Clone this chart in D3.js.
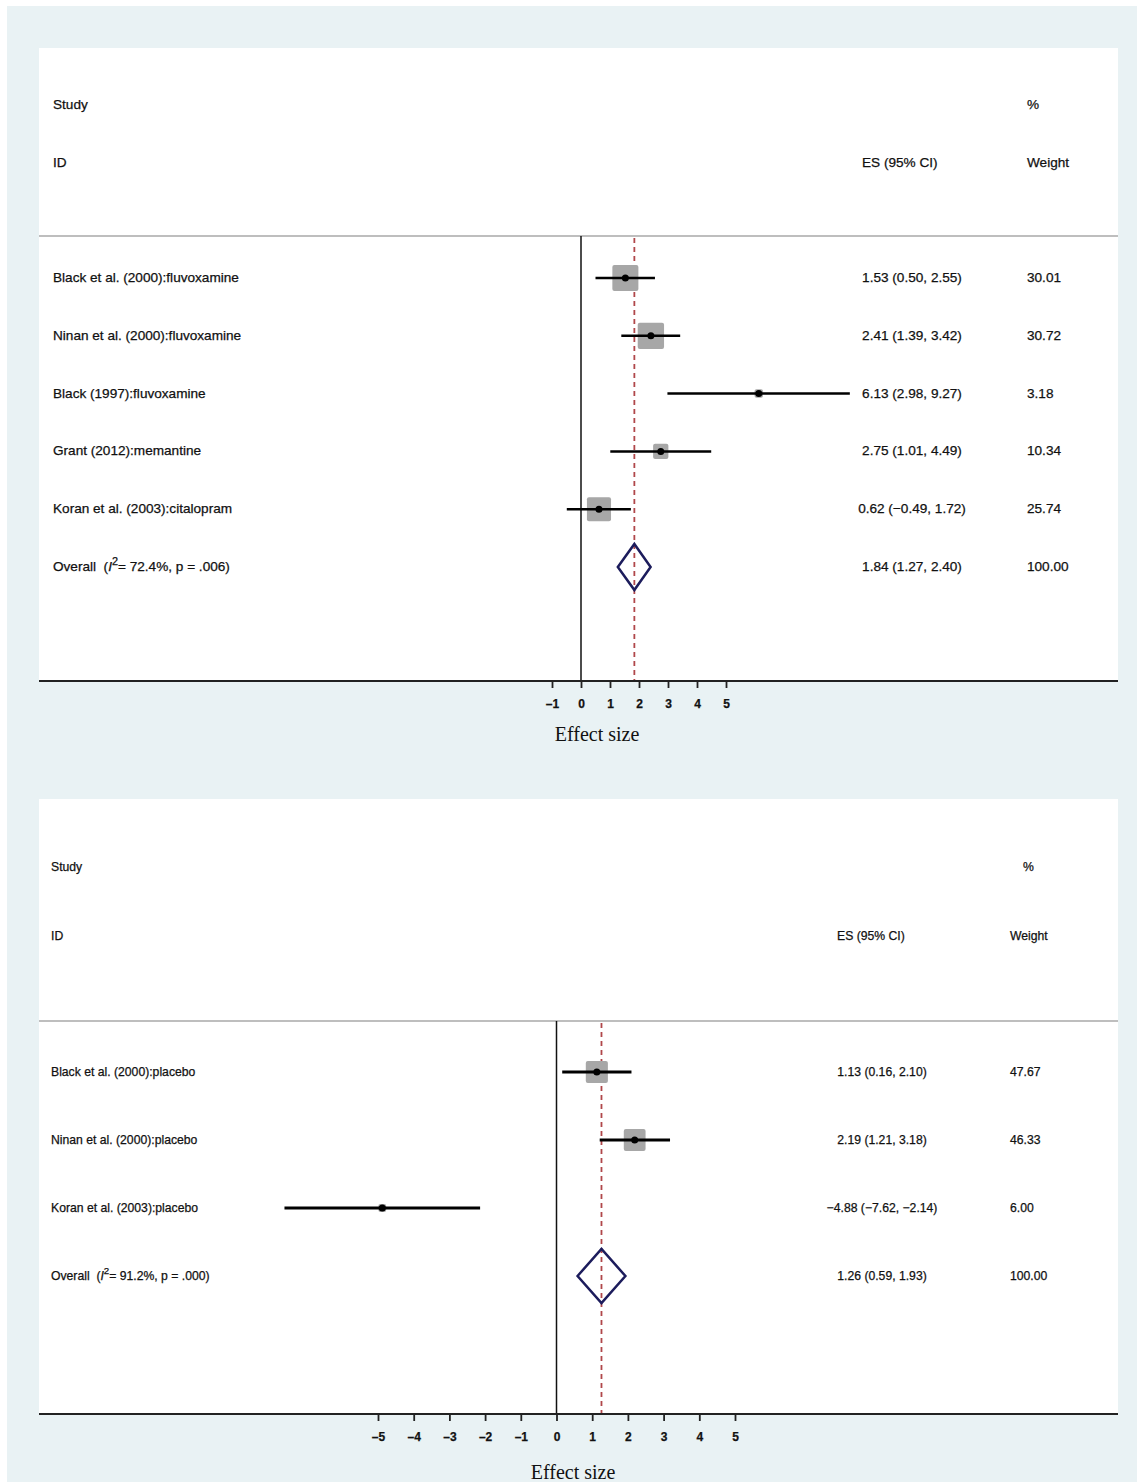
<!DOCTYPE html>
<html>
<head>
  <meta charset="utf-8">
  <title>Forest plots</title>
  <script src="https://d3js.org/d3.v7.min.js"></script>
  <style>
    body { margin: 0; background: #fff; }
    text { font-family: "Liberation Sans", Arial, sans-serif; fill: #111; stroke: #111; stroke-width: 0.25px; }
  </style>
</head>
<body>

<script>
// top panel: active drug
const topStudies = ['Black et al. (2000):fluvoxamine', 'Ninan et al. (2000):fluvoxamine',
  'Black (1997):fluvoxamine', 'Grant (2012):memantine', 'Koran et al. (2003):citalopram'];
const topES = [1.53, 2.41, 6.13, 2.75, 0.62];
const topLo = [0.50, 1.39, 2.98, 1.01, -0.49];
const topHi = [2.55, 3.42, 9.27, 4.49, 1.72];
const topWeight = [30.01, 30.72, 3.18, 10.34, 25.74];
const topOverall = { es: 1.84, lo: 1.27, hi: 2.40, i2: '72.4%', p: '.006' };
const topTicks = [-1, 0, 1, 2, 3, 4, 5];

// bottom panel: placebo
const botStudies = ['Black et al. (2000):placebo', 'Ninan et al. (2000):placebo', 'Koran et al. (2003):placebo'];
const botES = [1.13, 2.19, -4.88];
const botLo = [0.16, 1.21, -7.62];
const botHi = [2.10, 3.18, -2.14];
const botWeight = [47.67, 46.33, 6.00];
const botOverall = { es: 1.26, lo: 0.59, hi: 1.93, i2: '91.2%', p: '.000' };
const botTicks = [-5, -4, -3, -2, -1, 0, 1, 2, 3, 4, 5];

const width = 1137, height = 1482;
const svg = d3.select('body').append('svg')
  .attr('width', width)
  .attr('height', height);

svg.append('rect').attr('x', 7).attr('y', 6).attr('width', width - 7).attr('height', height - 6)
  .attr('fill', '#e9f2f4');

const fmt = v => d3.format('.2f')(v).replace('-', '\u2013');

function drawPanel(p) {
  const g = svg.append('g');
  const x = d3.scaleLinear().domain(p.xDomain).range(p.xRange);
  const n = p.studies.length;
  const y = d3.scaleLinear().domain([0, n]).range(p.rowRange);

  g.append('rect').attr('x', 39).attr('y', p.top).attr('width', 1079).attr('height', p.axisY - p.top)
    .attr('fill', '#fff');

  // headers
  const fs = p.fontSize;
  g.append('text').attr('x', p.labelX).attr('y', p.headY1 + 4).attr('font-size', fs).text('Study');
  g.append('text').attr('x', p.labelX).attr('y', p.headY2 + 4).attr('font-size', fs).text('ID');
  g.append('text').attr('x', p.esHeadX).attr('y', p.headY2 + 4).attr('font-size', fs).text('ES (95% CI)');
  g.append('text').attr('x', p.pctX).attr('y', p.headY1 + 4).attr('font-size', fs).text('%');
  g.append('text').attr('x', p.wX).attr('y', p.headY2 + 4).attr('font-size', fs).text('Weight');

  g.append('line').attr('x1', 39).attr('x2', 1118).attr('y1', p.headLine).attr('y2', p.headLine)
    .attr('stroke', '#a8a8a8').attr('stroke-width', 1.5);

  // no-effect line and overall dashed line
  g.append('line').attr('x1', x(0)).attr('x2', x(0)).attr('y1', p.headLine).attr('y2', p.axisY)
    .attr('stroke', '#111').attr('stroke-width', 1.5);
  g.append('line').attr('x1', x(p.overall.es)).attr('x2', x(p.overall.es))
    .attr('y1', p.headLine + 2).attr('y2', p.axisY)
    .attr('stroke', '#b0474a').attr('stroke-width', 1.8).attr('stroke-dasharray', '5,4');

  const rows = d3.range(n).map(i => ({
    name: p.studies[i], es: p.es[i], lo: p.lo[i], hi: p.hi[i], w: p.weight[i], i
  }));

  // boxes
  g.selectAll('.box').data(rows).enter().append('rect')
    .attr('x', d => x(d.es) - p.boxK * Math.sqrt(d.w) / 2)
    .attr('y', d => y(d.i) - p.boxK * Math.sqrt(d.w) / 2)
    .attr('width', d => p.boxK * Math.sqrt(d.w))
    .attr('height', d => p.boxK * Math.sqrt(d.w))
    .attr('rx', 2)
    .attr('fill', '#a7a7a7');

  g.selectAll('.ci').data(rows).enter().append('line')
    .attr('x1', d => x(d.lo)).attr('x2', d => x(d.hi))
    .attr('y1', d => y(d.i)).attr('y2', d => y(d.i))
    .attr('stroke', '#000').attr('stroke-width', p.ciWidth);

  g.selectAll('.pt').data(rows).enter().append('circle')
    .attr('cx', d => x(d.es)).attr('cy', d => y(d.i)).attr('r', 3.5)
    .attr('fill', '#000');

  // row texts
  g.selectAll('.lab').data(rows).enter().append('text')
    .attr('x', p.labelX).attr('y', d => y(d.i) + 4).attr('font-size', fs)
    .text(d => d.name);
  g.selectAll('.esl').data(rows).enter().append('text')
    .attr('x', p.esX).attr('y', d => y(d.i) + 4).attr('font-size', fs)
    .attr('text-anchor', 'middle')
    .text(d => `${fmt(d.es)} (${fmt(d.lo)}, ${fmt(d.hi)})`);
  g.selectAll('.wl').data(rows).enter().append('text')
    .attr('x', p.wX).attr('y', d => y(d.i) + 4).attr('font-size', fs)
    .text(d => fmt(d.w));

  // overall
  const o = p.overall, oy = y(n);
  g.append('path')
    .attr('d', `M${x(o.lo)},${oy}L${x(o.es)},${oy - p.diamondH}L${x(o.hi)},${oy}L${x(o.es)},${oy + p.diamondH}Z`)
    .attr('fill', 'none').attr('stroke', '#1c1c5c').attr('stroke-width', 2.5);
  const ot = g.append('text').attr('x', p.labelX).attr('y', oy + 4).attr('font-size', fs);
  ot.append('tspan').text('Overall\u00a0\u00a0(');
  ot.append('tspan').attr('font-style', 'italic').text('I');
  ot.append('tspan').attr('dy', -6).attr('font-size', fs * 0.8).text('2');
  ot.append('tspan').attr('dy', 6).text(`= ${o.i2}, p = ${o.p})`);
  g.append('text').attr('x', p.esX).attr('y', oy + 4).attr('font-size', fs)
    .attr('text-anchor', 'middle').text(`${fmt(o.es)} (${fmt(o.lo)}, ${fmt(o.hi)})`);
  g.append('text').attr('x', p.wX).attr('y', oy + 4).attr('font-size', fs).text('100.00');

  // axis
  g.append('line').attr('x1', 39).attr('x2', 1118).attr('y1', p.axisY).attr('y2', p.axisY)
    .attr('stroke', '#222').attr('stroke-width', 1.8);
  const ax = g.append('g').attr('transform', `translate(0,${p.axisY})`)
    .call(d3.axisBottom(x).tickValues(p.ticks).tickSize(7).tickPadding(p.tickPad)
      .tickFormat(d => String(d).replace('-', '\u2013')));
  ax.select('.domain').remove();
  ax.selectAll('.tick line').attr('stroke', '#222').attr('stroke-width', 1.8);
  ax.selectAll('.tick text').attr('font-size', 12).attr('font-weight', 'bold')
    .attr('fill', '#222').style('font-family', '"Liberation Sans", Arial, sans-serif');

  g.append('text').attr('x', p.titleX).attr('y', p.titleY)
    .attr('text-anchor', 'middle').attr('font-size', 20)
    .style('font-family', '"Liberation Serif", "Times New Roman", serif')
    .style('stroke', 'none')
    .attr('fill', '#222')
    .text('Effect size');
}

drawPanel({
  studies: topStudies, es: topES, lo: topLo, hi: topHi, weight: topWeight, overall: topOverall,
  ticks: topTicks, xDomain: [0, 5], xRange: [581, 726], rowRange: [278, 567],
  top: 48, headLine: 236, axisY: 681, headY1: 105, headY2: 163,
  labelX: 53, esHeadX: 862, esX: 912, pctX: 1027, wX: 1027,
  fontSize: 13.6, boxK: 4.75, ciWidth: 2.5, diamondH: 23, tickPad: 11,
  titleX: 597, titleY: 741
});

drawPanel({
  studies: botStudies, es: botES, lo: botLo, hi: botHi, weight: botWeight, overall: botOverall,
  ticks: botTicks, xDomain: [-5, 5], xRange: [378, 735], rowRange: [1072, 1276],
  top: 799, headLine: 1021, axisY: 1414, headY1: 867, headY2: 936,
  labelX: 51, esHeadX: 837, esX: 882, pctX: 1023, wX: 1010,
  fontSize: 12.2, boxK: 3.2, ciWidth: 3, diamondH: 27, tickPad: 11,
  titleX: 573, titleY: 1479
});
</script>

</body>
</html>
